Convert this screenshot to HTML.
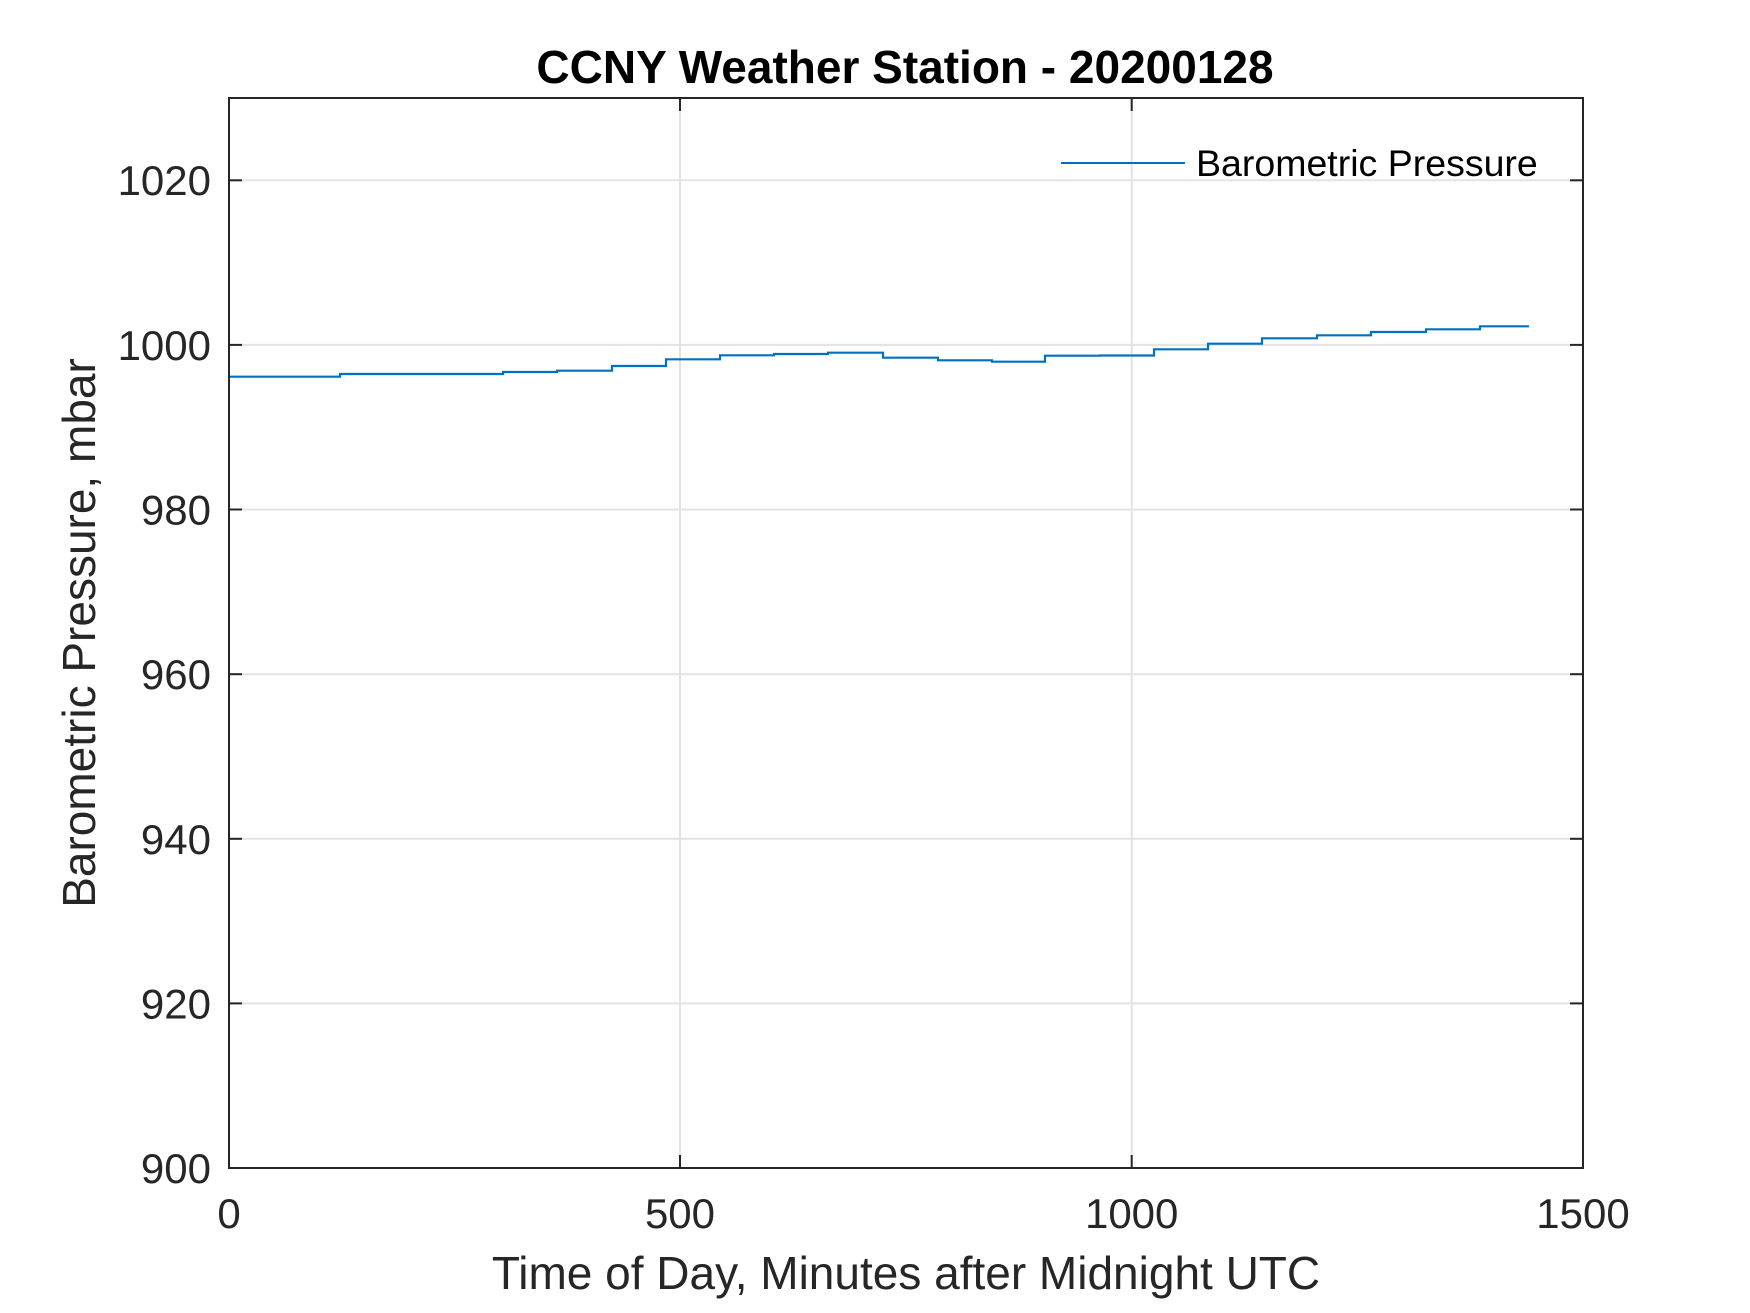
<!DOCTYPE html>
<html>
<head>
<meta charset="utf-8">
<style>
  html, body { margin: 0; padding: 0; background: #ffffff; }
  svg { display: block; }
  text { font-family: "Liberation Sans", Arial, Helvetica, sans-serif; }
</style>
</head>
<body>
<svg width="1750" height="1313" viewBox="0 0 1750 1313" xmlns="http://www.w3.org/2000/svg">
  <rect x="0" y="0" width="1750" height="1313" fill="#ffffff"/>

  <!-- grid lines -->
  <g stroke="#e3e3e3" stroke-width="2" fill="none">
    <line x1="680" y1="98" x2="680" y2="1168"/>
    <line x1="1131.7" y1="98" x2="1131.7" y2="1168"/>
    <line x1="229" y1="180.3" x2="1583" y2="180.3"/>
    <line x1="229" y1="344.9" x2="1583" y2="344.9"/>
    <line x1="229" y1="509.5" x2="1583" y2="509.5"/>
    <line x1="229" y1="674.2" x2="1583" y2="674.2"/>
    <line x1="229" y1="838.8" x2="1583" y2="838.8"/>
    <line x1="229" y1="1003.4" x2="1583" y2="1003.4"/>
  </g>

  <!-- data series -->
  <polyline fill="none" stroke="#0072BD" stroke-width="2.2" stroke-linejoin="miter"
    points="229,376.7 340,376.7 340,374 503,374 503,372 557,372 557,370.7 612,370.7 612,366 666,366 666,359.3 720,359.3 720,355.3 774,355.3 774,354 828,354 828,352.7 883,352.7 883,357.7 938,357.7 938,360.3 992,360.3 992,361.7 1045,361.7 1045,355.7 1100,355.7 1100,355.5 1154,355.5 1154,349.3 1208,349.3 1208,343.7 1262,343.7 1262,338.3 1317,338.3 1317,335.3 1371,335.3 1371,332 1426,332 1426,329.3 1480,329.3 1480,326.3 1529,326.3"/>

  <!-- axes box -->
  <rect x="229" y="98" width="1354" height="1070" fill="none" stroke="#262626" stroke-width="2"/>

  <!-- ticks -->
  <g stroke="#262626" stroke-width="2">
    <line x1="680" y1="1168" x2="680" y2="1155"/>
    <line x1="1131.7" y1="1168" x2="1131.7" y2="1155"/>
    <line x1="680" y1="98" x2="680" y2="111"/>
    <line x1="1131.7" y1="98" x2="1131.7" y2="111"/>
    <line x1="229" y1="180.3" x2="242" y2="180.3"/>
    <line x1="229" y1="344.9" x2="242" y2="344.9"/>
    <line x1="229" y1="509.5" x2="242" y2="509.5"/>
    <line x1="229" y1="674.2" x2="242" y2="674.2"/>
    <line x1="229" y1="838.8" x2="242" y2="838.8"/>
    <line x1="229" y1="1003.4" x2="242" y2="1003.4"/>
    <line x1="1583" y1="180.3" x2="1570" y2="180.3"/>
    <line x1="1583" y1="344.9" x2="1570" y2="344.9"/>
    <line x1="1583" y1="509.5" x2="1570" y2="509.5"/>
    <line x1="1583" y1="674.2" x2="1570" y2="674.2"/>
    <line x1="1583" y1="838.8" x2="1570" y2="838.8"/>
    <line x1="1583" y1="1003.4" x2="1570" y2="1003.4"/>
  </g>

  <!-- y tick labels -->
  <g font-size="42" fill="#262626" text-anchor="end">
    <text x="211" y="195">1020</text>
    <text x="211" y="360">1000</text>
    <text x="211" y="524.5">980</text>
    <text x="211" y="689">960</text>
    <text x="211" y="854">940</text>
    <text x="211" y="1018.5">920</text>
    <text x="211" y="1183">900</text>
  </g>

  <!-- x tick labels -->
  <g font-size="42" fill="#262626" text-anchor="middle">
    <text x="229" y="1228">0</text>
    <text x="680" y="1228">500</text>
    <text x="1131.7" y="1228">1000</text>
    <text x="1583" y="1228">1500</text>
  </g>

  <!-- axis labels -->
  <text x="906" y="1289" font-size="46" fill="#262626" text-anchor="middle">Time of Day, Minutes after Midnight UTC</text>
  <text transform="translate(95,633) rotate(-90)" x="0" y="0" font-size="46" fill="#262626" text-anchor="middle">Barometric Pressure, mbar</text>

  <!-- title -->
  <text x="905" y="83" font-size="46" font-weight="bold" fill="#000000" text-anchor="middle">CCNY Weather Station - 20200128</text>

  <!-- legend -->
  <line x1="1061" y1="163" x2="1185" y2="163" stroke="#0072BD" stroke-width="2"/>
  <text x="1196" y="176" font-size="37.5" fill="#000000">Barometric Pressure</text>
</svg>
</body>
</html>
